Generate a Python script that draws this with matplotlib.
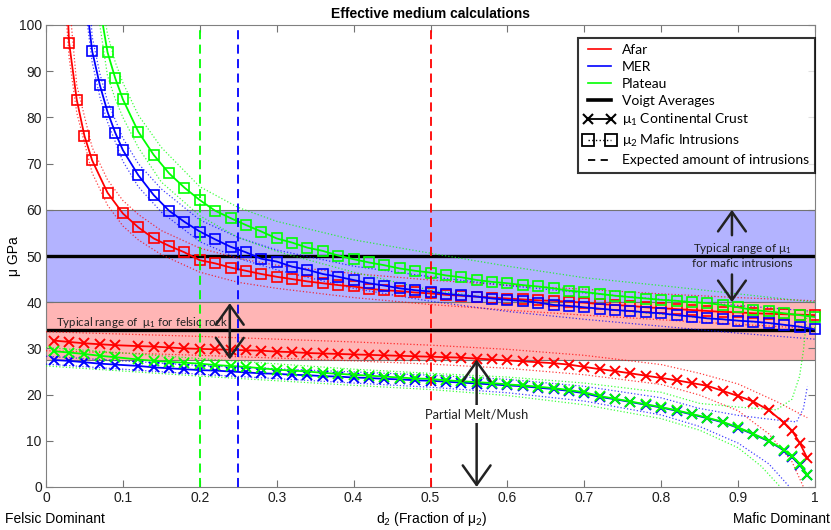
import matplotlib.pyplot as plt
from matplotlib.lines import Line2D

# ================= data =================
# mu_2 (mafic intrusions) curves, square markers
d_sq_afar = [0.029, 0.03, 0.04, 0.05, 0.06, 0.08, 0.10] + [round(0.12 + 0.02 * i, 2) for i in range(45)]
mu_sq_afar = [100.0, 96.2, 83.8, 76.0, 70.7, 63.7, 59.2,
              56.2, 53.8, 52.2, 50.8, 49.1, 48.4, 47.5, 46.8, 46.1, 45.5, 45.0,
              44.5, 44.1, 43.7, 43.4, 42.9, 42.6, 42.4, 42.1, 41.9, 41.6, 41.4,
              41.2, 41.0, 40.8, 40.6, 40.4, 40.3, 40.1, 39.9, 39.6, 39.4, 39.2,
              38.9, 38.7, 38.5, 38.3, 38.1, 37.9, 37.8, 37.6, 37.5, 37.4, 37.3, 37.2]

d_sq_mer = [0.056, 0.06, 0.07, 0.08, 0.09, 0.10] + [round(0.12 + 0.02 * i, 2) for i in range(45)]
mu_sq_mer = [100.0, 94.4, 87.0, 81.2, 76.7, 72.9,
             67.5, 63.2, 59.8, 57.4, 55.3, 53.6, 52.0, 50.8, 49.4, 48.8, 47.7,
             47.0, 46.1, 45.5, 44.8, 44.1, 43.6, 43.0, 42.6, 42.3, 41.8, 41.5,
             41.2, 40.8, 40.5, 40.3, 39.9, 39.4, 39.2, 38.9, 38.6, 38.3, 38.1,
             37.8, 37.6, 37.2, 36.9, 36.5, 36.3, 36.0, 35.8, 35.5, 35.1, 34.7, 34.1]

d_sq_plat = [0.074, 0.08, 0.09, 0.10] + [round(0.12 + 0.02 * i, 2) for i in range(45)]
mu_sq_plat = [100.0, 94.1, 88.5, 83.9,
              76.9, 71.9, 67.9, 64.8, 62.1, 59.8, 58.2, 56.7, 55.3, 53.8, 52.9,
              51.8, 51.1, 50.1, 49.3, 48.6, 48.0, 47.3, 46.8, 46.4, 45.8, 45.4,
              44.8, 44.4, 44.1, 43.7, 43.4, 43.0, 42.5, 42.2, 41.8, 41.4, 41.1,
              40.8, 40.5, 40.3, 40.0, 39.8, 39.4, 38.9, 38.3, 38.0, 37.6, 37.2, 36.8]

# mu_1 (continental crust) curves, cross markers
d_x = [0.01, 0.03, 0.05, 0.07, 0.09] + [round(0.12 + 0.02 * i, 2) for i in range(43)] + [0.97, 0.98, 0.99]
mu_x_afar = [31.7, 31.4, 31.1, 30.9, 30.7,
             30.5, 30.4, 30.2, 30.0, 29.9, 29.8, 29.7, 29.6, 29.5, 29.3, 29.2,
             29.0, 28.9, 28.8, 28.7, 28.6, 28.5, 28.4, 28.3, 28.2, 28.1, 28.0,
             27.8, 27.6, 27.4, 27.2, 27.0, 26.8, 26.5, 26.0, 25.5, 25.1, 24.6,
             24.1, 23.6, 23.1, 22.5, 21.9, 20.8, 19.7, 18.5, 16.6, 13.9,
             12.2, 9.6, 6.2]
mu_x_mer = [27.5, 27.3, 27.0, 26.7, 26.5,
            26.2, 25.9, 25.7, 25.5, 25.3, 25.2, 25.0, 24.8, 24.6, 24.5, 24.3,
            24.2, 24.0, 23.9, 23.7, 23.6, 23.4, 23.3, 23.1, 23.0, 22.8, 22.6,
            22.4, 22.2, 22.0, 21.8, 21.5, 21.2, 20.8, 20.3, 19.5, 19.0, 18.4,
            17.8, 17.2, 16.5, 15.7, 14.9, 14.0, 12.8, 11.4, 9.9, 7.9,
            6.6, 4.8, 2.6]
mu_x_plat = [29.4, 29.1, 28.8, 28.4, 28.1,
             27.6, 27.3, 27.1, 26.9, 26.7, 26.4, 26.2, 26.0, 25.7, 25.4, 25.2,
             25.0, 24.7, 24.5, 24.3, 24.1, 23.9, 23.7, 23.5, 23.4, 23.1, 22.9,
             22.7, 22.5, 22.2, 22.0, 21.7, 21.4, 21.0, 20.5, 19.7, 19.1, 18.5,
             17.9, 17.3, 16.6, 15.8, 15.0, 14.1, 12.9, 11.5, 10.0, 8.0,
             6.7, 4.9, 2.7]

# dotted uncertainty bounds (upper / lower) for each curve
d_bnd_sq_afar_up = [0.033, 0.04, 0.06, 0.08, 0.10, 0.12, 0.15, 0.2, 0.25, 0.3, 0.4, 0.5, 0.6, 0.7, 0.8, 0.9, 1.0]
mu_bnd_sq_afar_up = [100, 87.0, 73.5, 66.5, 62.0, 59.0, 55.5, 51.7, 49.5, 48.0, 46.2, 44.8, 43.7, 42.8, 41.8, 41.0, 40.3]
d_bnd_sq_afar_lo = [0.027, 0.03, 0.04, 0.06, 0.08, 0.10, 0.12, 0.15, 0.2, 0.25, 0.3, 0.4, 0.5, 0.6, 0.7, 0.8, 0.9, 1.0]
mu_bnd_sq_afar_lo = [100, 93.0, 81.0, 68.0, 61.0, 56.5, 53.5, 50.3, 46.5, 44.3, 43.0, 41.0, 39.5, 38.3, 37.2, 36.2, 35.2, 34.3]

d_bnd_sq_mer_up = [0.059, 0.06, 0.07, 0.08, 0.10, 0.12, 0.15, 0.2, 0.25, 0.3, 0.4, 0.5, 0.6, 0.7, 0.8, 0.9, 1.0]
mu_bnd_sq_mer_up = [100, 97.5, 89.5, 83.5, 75.5, 70.0, 64.5, 57.8, 54.0, 51.3, 47.8, 45.5, 43.6, 42.0, 40.6, 39.3, 38.0]
d_bnd_sq_mer_lo = [0.054, 0.06, 0.07, 0.08, 0.10, 0.12, 0.15, 0.2, 0.25, 0.3, 0.4, 0.5, 0.6, 0.7, 0.8, 0.9, 1.0]
mu_bnd_sq_mer_lo = [100, 92.0, 84.5, 79.0, 70.5, 65.0, 59.5, 53.1, 49.5, 47.0, 43.0, 40.2, 38.0, 36.3, 34.8, 33.3, 32.0]

d_bnd_sq_plat_up = [0.078, 0.08, 0.09, 0.10, 0.12, 0.15, 0.2, 0.25, 0.3, 0.4, 0.5, 0.6, 0.7, 0.8, 0.9, 1.0]
mu_bnd_sq_plat_up = [100, 98.0, 92.0, 87.5, 80.5, 73.5, 65.0, 60.5, 57.5, 53.5, 50.6, 47.8, 45.3, 43.6, 41.8, 40.0]
d_bnd_sq_plat_lo = [0.070, 0.08, 0.09, 0.10, 0.12, 0.15, 0.2, 0.25, 0.3, 0.4, 0.5, 0.6, 0.7, 0.8, 0.9, 1.0]
mu_bnd_sq_plat_lo = [100, 89.0, 84.0, 80.0, 73.5, 66.0, 58.7, 54.0, 51.0, 46.5, 42.6, 40.5, 38.8, 37.4, 36.0, 34.5]

d_bnd_x_afar_up = [0.0, 0.1, 0.2, 0.3, 0.4, 0.5, 0.6, 0.7, 0.8, 0.85, 0.9, 0.95, 0.99]
mu_bnd_x_afar_up = [33.6, 33.1, 32.6, 32.0, 31.4, 30.7, 29.8, 28.5, 26.5, 24.6, 22.3, 18.5, 15.0]
d_bnd_x_afar_lo = [0.0, 0.1, 0.2, 0.3, 0.4, 0.5, 0.6, 0.7, 0.8, 0.85, 0.9, 0.94, 0.97, 0.985]
mu_bnd_x_afar_lo = [29.5, 29.0, 28.5, 27.9, 27.3, 26.6, 25.7, 24.3, 22.2, 19.9, 16.5, 11.5, 5.5, 0.0]

d_bnd_x_mer_up = [0.0, 0.2, 0.4, 0.5, 0.6, 0.7, 0.8, 0.85, 0.9, 0.95, 0.976, 0.985, 0.99]
mu_bnd_x_mer_up = [28.3, 26.3, 24.9, 24.2, 23.3, 21.8, 19.3, 17.0, 15.5, 14.5, 14.1, 17.0, 21.7]
d_bnd_x_mer_lo = [0.0, 0.2, 0.4, 0.5, 0.6, 0.7, 0.8, 0.85, 0.9, 0.94, 0.967]
mu_bnd_x_mer_lo = [26.6, 24.4, 22.5, 21.6, 20.4, 18.6, 15.6, 13.1, 9.5, 5.0, 0.0]

d_bnd_x_plat_up = [0.0, 0.2, 0.4, 0.5, 0.6, 0.7, 0.8, 0.85, 0.9, 0.95, 0.97, 0.98, 0.985, 0.99]
mu_bnd_x_plat_up = [30.2, 27.8, 25.5, 24.6, 23.8, 22.5, 20.5, 18.1, 17.3, 16.7, 19.0, 24.0, 29.6, 38.0]
d_bnd_x_plat_lo = [0.0, 0.2, 0.4, 0.5, 0.6, 0.7, 0.8, 0.85, 0.9, 0.93, 0.955]
mu_bnd_x_plat_lo = [26.2, 24.0, 22.0, 21.1, 19.8, 17.8, 14.8, 12.3, 8.5, 4.5, 0.0]

# expected amount of intrusions (vertical dashed lines)
d_expected = {"Afar": 0.5, "MER": 0.25, "Plateau": 0.2}
# Voigt averages and typical ranges
voigt_mafic = 50
voigt_felsic = 34
range_mafic = (40, 60)
range_felsic = (27.5, 40)

x_ticks = [0, 0.1, 0.2, 0.3, 0.4, 0.5, 0.6, 0.7, 0.8, 0.9, 1]
y_ticks = [0, 10, 20, 30, 40, 50, 60, 70, 80, 90, 100]
# ================================================================

plt.rcParams['font.family'] = ['Liberation Sans', 'DejaVu Sans']
plt.rcParams['mathtext.fontset'] = 'custom'
plt.rcParams['mathtext.rm'] = 'Lato'
plt.rcParams['mathtext.it'] = 'Lato:italic'

RED, BLUE, GREEN = (1, 0, 0), (0, 0, 1), (0, 1, 0)
ANN_FONT = ['Lato', 'DejaVu Sans']
DARK = '#222222'

fig = plt.figure(figsize=(8.31, 5.30), dpi=100)
ax = fig.add_axes([46 / 831, 1 - 487 / 530, 769 / 831, 462 / 530])

# shaded ranges
ax.axhspan(*range_mafic, facecolor=(0.70, 0.70, 1.0), edgecolor=(0.45, 0.45, 0.45), lw=0.8, zorder=0)
ax.axhspan(*range_felsic, facecolor=(1.0, 0.71, 0.71), edgecolor=(0.45, 0.45, 0.45), lw=0.8, zorder=0)

# Voigt averages
ax.axhline(voigt_mafic, color='k', lw=2.4, zorder=2)
ax.axhline(voigt_felsic, color='k', lw=2.4, zorder=2)

series = [
    (RED, d_sq_afar, mu_sq_afar, mu_x_afar,
     (d_bnd_sq_afar_up, mu_bnd_sq_afar_up), (d_bnd_sq_afar_lo, mu_bnd_sq_afar_lo),
     (d_bnd_x_afar_up, mu_bnd_x_afar_up), (d_bnd_x_afar_lo, mu_bnd_x_afar_lo)),
    (BLUE, d_sq_mer, mu_sq_mer, mu_x_mer,
     (d_bnd_sq_mer_up, mu_bnd_sq_mer_up), (d_bnd_sq_mer_lo, mu_bnd_sq_mer_lo),
     (d_bnd_x_mer_up, mu_bnd_x_mer_up), (d_bnd_x_mer_lo, mu_bnd_x_mer_lo)),
    (GREEN, d_sq_plat, mu_sq_plat, mu_x_plat,
     (d_bnd_sq_plat_up, mu_bnd_sq_plat_up), (d_bnd_sq_plat_lo, mu_bnd_sq_plat_lo),
     (d_bnd_x_plat_up, mu_bnd_x_plat_up), (d_bnd_x_plat_lo, mu_bnd_x_plat_lo)),
]

for color, d_sq, mu_sq, mu_x, *bounds in series:
    for bd, bmu in bounds:
        ax.plot(bd, bmu, ':', color=color, lw=0.9, alpha=0.75, zorder=3)
    # first point of each square curve is where the line leaves the top of the axes
    ax.plot(d_sq, mu_sq, '-', color=color, lw=1.3, zorder=4)
    ax.plot(d_sq[1:], mu_sq[1:], 's', color=color, mfc='none', mew=1.2, ms=7.5, zorder=4, clip_on=False)
    ax.plot(d_x, mu_x, '-x', color=color, lw=1.3, mew=1.4, ms=7.5, zorder=4)

# expected amount of intrusions
for name, color in [("Plateau", GREEN), ("MER", BLUE), ("Afar", RED)]:
    ax.axvline(d_expected[name], color=color, lw=1.3, dashes=(5, 3), zorder=5)

# arrows and annotations
arrow_kw = dict(arrowstyle='<->,head_length=0.7,head_width=0.5', color=DARK, lw=1.8,
                mutation_scale=20, shrinkA=0, shrinkB=0)
ax.annotate('', xy=(0.239, 39.8), xytext=(0.239, 27.6), arrowprops=arrow_kw, zorder=6)
ax.annotate('', xy=(0.56, 27.6), xytext=(0.56, 0.0), arrowprops=arrow_kw, zorder=6)
one_kw = dict(arrow_kw, arrowstyle='->,head_length=0.7,head_width=0.5')
ax.annotate('', xy=(0.892, 60.0), xytext=(0.892, 54.5), arrowprops=one_kw, zorder=6)
ax.annotate('', xy=(0.892, 40.0), xytext=(0.892, 46.0), arrowprops=one_kw, zorder=6)

ax.text(0.56, 15.8, 'Partial Melt/Mush', ha='center', va='center', fontsize=9.3, family=ANN_FONT,
        color=DARK, bbox=dict(facecolor='white', edgecolor='none', pad=2), zorder=7)
ax.text(0.013, 35.7, r'Typical range of  μ$_1$ for felsic rock', ha='left', va='center',
        fontsize=8.3, family=ANN_FONT, color=DARK, zorder=7)
ax.text(0.906, 51.6, r'Typical range of μ$_1$', ha='center', va='center',
        fontsize=8.5, family=ANN_FONT, color=DARK, zorder=7)
ax.text(0.906, 48.3, 'for mafic intrusions', ha='center', va='center',
        fontsize=8.5, family=ANN_FONT, color=DARK, zorder=7)

# axes styling
ax.set_xlim(0, 1)
ax.set_ylim(0, 100)
ax.set_xticks(x_ticks)
ax.set_xticklabels([f'{t:g}' for t in x_ticks])
ax.set_yticks(y_ticks)
ax.tick_params(direction='in', top=True, right=True, length=5, width=0.8, color=(0.45, 0.45, 0.45),
               labelsize=10, pad=3, labelcolor=(0.12, 0.12, 0.12))
for sp in ax.spines.values():
    sp.set_color((0.5, 0.5, 0.5))
    sp.set_linewidth(0.8)

ax.set_title('Effective medium calculations', fontsize=10, fontweight='bold', pad=5)
fig.text(14 / 831, 1 - 256 / 530, 'μ GPa', rotation=90, ha='center', va='center', fontsize=10)
fig.text(432 / 831, 1 - 519 / 530, r'd$_2$ (Fraction of μ$_2$)', ha='center', va='center', fontsize=10)
fig.text(5 / 831, 1 - 519 / 530, 'Felsic Dominant', ha='left', va='center', fontsize=10)
fig.text(830 / 831, 1 - 519 / 530, 'Mafic Dominant', ha='right', va='center', fontsize=10)

# legend
handles = [
    Line2D([], [], color=RED, lw=1.2),
    Line2D([], [], color=BLUE, lw=1.2),
    Line2D([], [], color=GREEN, lw=1.2),
    Line2D([], [], color='k', lw=2.6),
    Line2D([], [], color='k', lw=1.3, marker='x', ms=7.5, mew=1.5),
    Line2D([], [], color='k', lw=1.0, ls=':', marker='s', mfc='none', ms=8, mew=1.3),
    Line2D([], [], color='k', lw=1.3, dashes=(4, 3)),
]
labels = ['Afar', 'MER', 'Plateau', 'Voigt Averages', r'μ$_1$ Continental Crust',
          r'μ$_2$ Mafic Intrusions', 'Expected amount of intrusions']
leg = ax.legend(handles, labels, loc='upper right', bbox_to_anchor=(1.0, 0.972), borderaxespad=0,
                prop={'family': ANN_FONT, 'size': 10}, frameon=True, fancybox=False,
                handlelength=2.2, handletextpad=0.5, labelspacing=0.36, borderpad=0.45,
                numpoints=2)
leg.get_frame().set_edgecolor('k')
leg.get_frame().set_linewidth(1.5)
leg.set_zorder(10)

fig.savefig('out.png', dpi=100)
